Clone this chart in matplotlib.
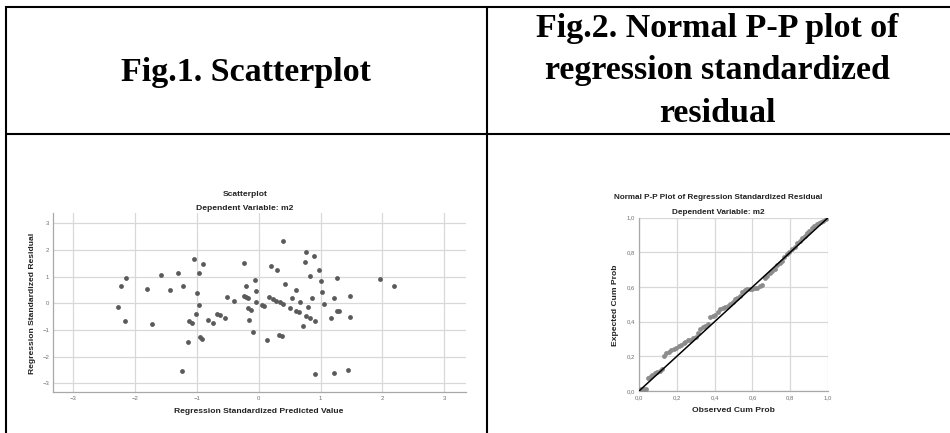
import matplotlib
matplotlib.use("Agg")
import matplotlib.pyplot as plt
from matplotlib.lines import Line2D
from matplotlib.ticker import FuncFormatter

W, H = 950, 433

# header texts of the two table cells
LEFT_HEADER = "Fig.1. Scatterplot"
RIGHT_HEADER = ["Fig.2. Normal P-P plot of", "regression standardized", "residual"]

# Fig.1 scatter: standardized predicted value vs standardized residual
pred = [-2.28, -2.23, -2.15, -2.16, -1.81, -1.73, -1.58, -1.44, -1.30, -1.23,
        -1.24, -1.15, -1.04, -1.00, -1.01, -1.12, -1.08, -0.96, -0.90, -0.96,
        -0.95, -0.92, -0.82, -0.74, -0.67, -0.62, -0.55, -0.52, -0.40, -0.24,
        -0.24, -0.20, -0.17, -0.21, -0.18, -0.12, -0.15, -0.10, -0.06, -0.05,
        -0.05, 0.05, 0.08, 0.14, 0.16, 0.20, 0.23, 0.29, 0.28, 0.33,
        0.37, 0.34, 0.39, 0.39, 0.42, 0.51, 0.53, 0.60, 0.61, 0.65,
        0.66, 0.72, 0.74, 0.76, 0.76, 0.80, 0.83, 0.83, 0.86, 0.90,
        0.91, 0.91, 0.97, 1.01, 1.02, 1.06, 1.17, 1.21, 1.21, 1.27,
        1.29, 1.26, 1.44, 1.47, 1.48, 1.96, 2.19]
resid = [-0.13, 0.63, 0.93, -0.66, 0.53, -0.76, 1.05, 0.50, 1.14, 0.65,
         -2.55, -1.45, 1.64, 0.39, -0.40, -0.68, -0.73, 1.14, 1.46, -0.06,
         -1.28, -1.33, -0.63, -0.73, -0.41, -0.45, -0.54, 0.23, 0.08, 1.50,
         0.28, 0.25, 0.21, 0.65, -0.18, -0.24, -0.63, -1.09, 0.88, 0.46,
         0.06, -0.06, -0.09, -1.36, 0.23, 1.38, 0.16, 1.26, 0.10, -1.20,
         -1.22, 0.03, -0.04, 2.35, 0.71, -0.18, 0.19, 0.51, -0.30, -0.34,
         0.04, -0.84, 1.55, 1.93, -0.48, -0.13, 1.04, -0.54, 0.19, 1.76,
         -0.66, -2.66, 1.26, 0.84, 0.43, -0.04, -0.56, 0.19, -2.61, -0.28,
         -0.30, 0.93, -2.49, 0.28, -0.53, 0.91, 0.65]
scatter_ticks = [-3, -2, -1, 0, 1, 2, 3]

# Fig.2 normal P-P plot
obs_cum = [0.012, 0.024, 0.035, 0.045, 0.058, 0.07, 0.084, 0.096, 0.11, 0.122,
           0.133, 0.145, 0.159, 0.171, 0.184, 0.198, 0.21, 0.224, 0.236, 0.246,
           0.259, 0.271, 0.285, 0.3, 0.311, 0.325, 0.337, 0.351, 0.364, 0.378,
           0.39, 0.404, 0.416, 0.43, 0.442, 0.456, 0.469, 0.482, 0.495, 0.509,
           0.521, 0.535, 0.547, 0.561, 0.573, 0.587, 0.6, 0.614, 0.626, 0.64,
           0.652, 0.665, 0.678, 0.692, 0.705, 0.718, 0.731, 0.745, 0.757, 0.769,
           0.783, 0.795, 0.81, 0.823, 0.836, 0.85, 0.862, 0.876, 0.888, 0.902,
           0.914, 0.928, 0.94, 0.952, 0.964, 0.976, 0.988]
exp_cum = [0.01, 0.01, 0.01, 0.073, 0.083, 0.092, 0.102, 0.111, 0.117, 0.125,
           0.202, 0.221, 0.227, 0.235, 0.242, 0.25, 0.26, 0.265, 0.275, 0.285,
           0.294, 0.294, 0.304, 0.313, 0.337, 0.356, 0.367, 0.377, 0.387, 0.425,
           0.435, 0.44, 0.458, 0.472, 0.477, 0.483, 0.49, 0.502, 0.515, 0.529,
           0.535, 0.55, 0.573, 0.583, 0.587, 0.587, 0.587, 0.592, 0.596, 0.606,
           0.612, 0.65, 0.663, 0.679, 0.692, 0.702, 0.727, 0.74, 0.752, 0.771,
           0.79, 0.804, 0.817, 0.833, 0.852, 0.865, 0.881, 0.894, 0.91, 0.925,
           0.938, 0.952, 0.963, 0.968, 0.975, 0.983, 0.99]
diag = [0.0, 1.0]
pp_ticks = [0.0, 0.2, 0.4, 0.6, 0.8, 1.0]

SANS = ["Liberation Sans", "DejaVu Sans"]
SERIF = ["Liberation Serif", "DejaVu Serif"]
GRID = "#d8d8d8"
SPINE = "#a8a8a8"
TICKC = "#707070"
TXT = "#222222"


def fx(px):
    return px / W


def fy(py):
    return 1 - py / H


def style_axes(ax, ticks, fmt=None):
    ax.set_xticks(ticks)
    ax.set_yticks(ticks)
    ax.grid(True, color=GRID, linewidth=0.9)
    ax.set_axisbelow(True)
    for side in ("top", "right"):
        ax.spines[side].set_visible(False)
    for side in ("left", "bottom"):
        ax.spines[side].set_color(SPINE)
        ax.spines[side].set_linewidth(0.9)
    ax.tick_params(length=0, pad=3, labelsize=4.3, labelcolor=TICKC)
    for lab in ax.get_xticklabels() + ax.get_yticklabels():
        lab.set_family(SANS)
    if fmt is not None:
        ax.xaxis.set_major_formatter(fmt)
        ax.yaxis.set_major_formatter(fmt)


fig = plt.figure(figsize=(W / 100, H / 100), dpi=100)
fig.patch.set_facecolor("white")

# table borders
lw = 1.5
for (x0, y0, x1, y1) in [(5, 6.5, 950, 6.5), (5.5, 6, 5.5, 433),
                         (486.8, 6, 486.8, 433), (5, 134.3, 950, 134.3)]:
    fig.add_artist(Line2D([fx(x0), fx(x1)], [fy(y0), fy(y1)], color="black",
                          linewidth=lw, solid_capstyle="butt"))

# header cells
fig.text(fx(246), fy(72), LEFT_HEADER, ha="center", va="center",
         fontsize=24.5, fontweight="bold", family=SERIF)
for i, line in enumerate(RIGHT_HEADER):
    fig.text(fx(717), fy(28 + 43 * i), line, ha="center", va="center",
             fontsize=24.5, fontweight="bold", family=SERIF)

# Fig.1 scatterplot
ax1 = fig.add_axes([fx(53.3), fy(391.7), (466 - 53.3) / W, (391.7 - 213) / H])
ax1.scatter(pred, resid, s=12, color="#5a5a5a", linewidths=0, zorder=3)
ax1.set_xlim(-3.32, 3.35)
ax1.set_ylim(-3.31, 3.38)
style_axes(ax1, scatter_ticks)
fig.text(fx(245), fy(194), "Scatterplot", ha="center", va="center",
         fontsize=6.1, fontweight="bold", family=SANS, color=TXT)
fig.text(fx(245), fy(208), "Dependent Variable: m2", ha="center", va="center",
         fontsize=6.1, fontweight="bold", family=SANS, color=TXT)
fig.text(fx(259), fy(411.5), "Regression Standardized Predicted Value",
         ha="center", va="center", fontsize=6.1, fontweight="bold",
         family=SANS, color=TXT)
fig.text(fx(33), fy(303), "Regression Standardized Residual", ha="center",
         va="center", rotation=90, fontsize=6.1, fontweight="bold",
         family=SANS, color=TXT)

# Fig.2 normal P-P plot
comma = FuncFormatter(lambda v, _: f"{v:.1f}".replace(".", ","))
ax2 = fig.add_axes([fx(639), fy(391), (828 - 639) / W, (391 - 217.7) / H])
ax2.scatter(obs_cum, exp_cum, s=12, color="#8c8c8c", linewidths=0, zorder=3)
ax2.plot(diag, diag, color="black", linewidth=1.1, zorder=4)
ax2.set_xlim(0, 1)
ax2.set_ylim(0, 1)
style_axes(ax2, pp_ticks, comma)
fig.text(fx(718.5), fy(197.3), "Normal P-P Plot of Regression Standardized Residual",
         ha="center", va="center", fontsize=5.9, fontweight="bold",
         family=SANS, color=TXT)
fig.text(fx(718.5), fy(212.3), "Dependent Variable: m2", ha="center",
         va="center", fontsize=5.9, fontweight="bold", family=SANS, color=TXT)
fig.text(fx(733), fy(410), "Observed Cum Prob", ha="center", va="center",
         fontsize=6.1, fontweight="bold", family=SANS, color=TXT)
fig.text(fx(615.7), fy(305), "Expected Cum Prob", ha="center", va="center",
         rotation=90, fontsize=6.1, fontweight="bold", family=SANS, color=TXT)

fig.savefig("out.png", dpi=100, facecolor="white")
